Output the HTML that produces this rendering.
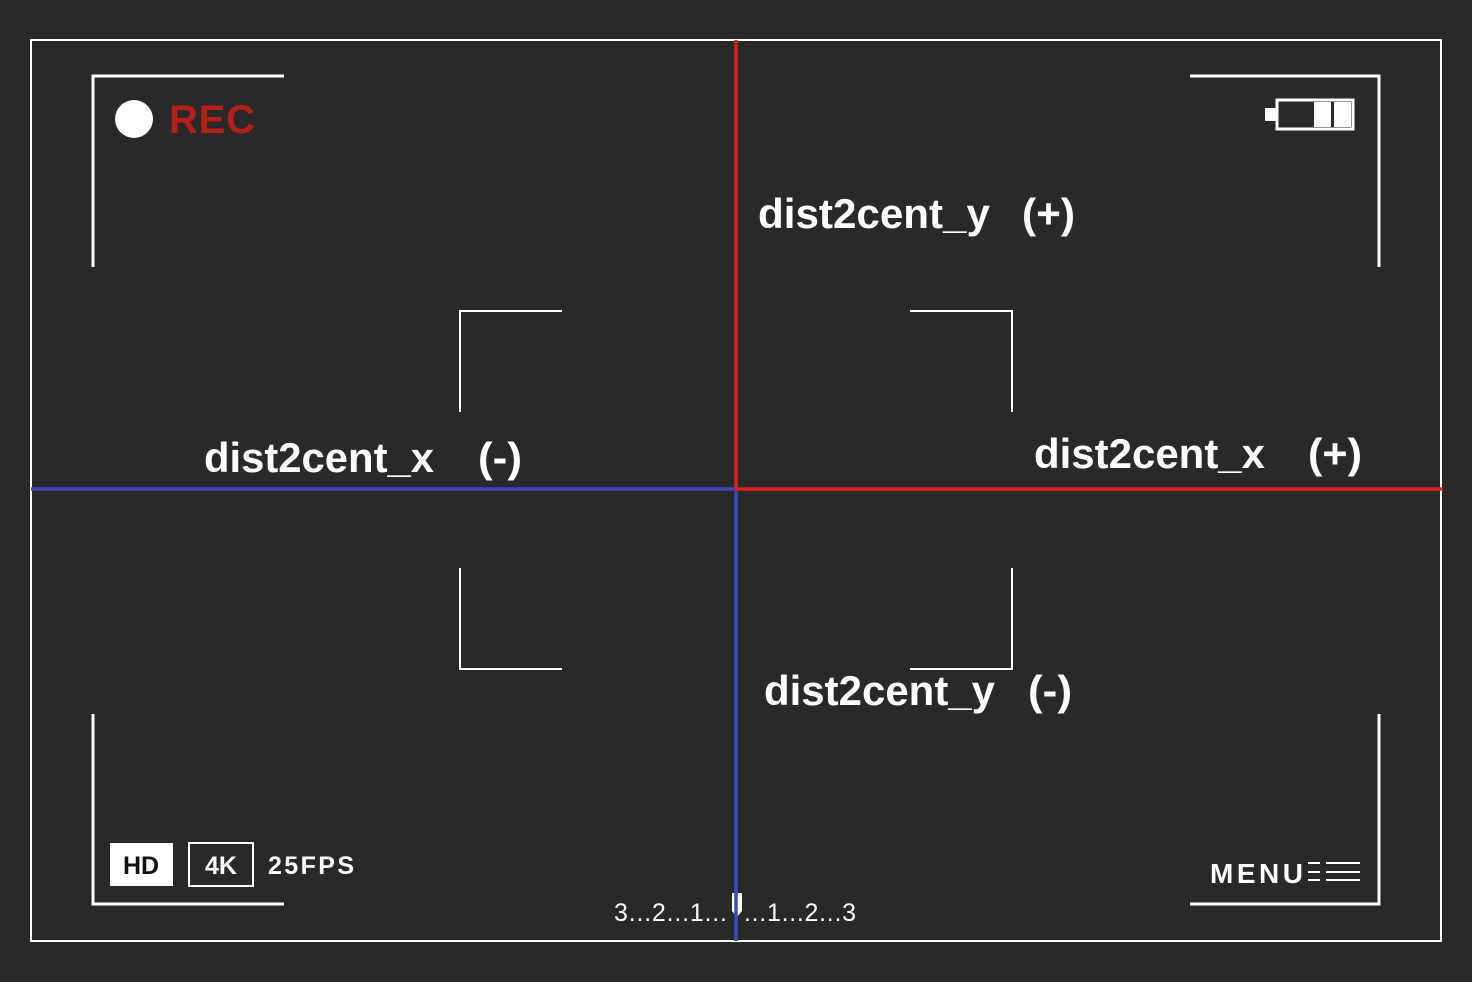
<!DOCTYPE html>
<html><head><meta charset="utf-8"><style>
html,body{margin:0;padding:0;background:#292929;}
svg{display:block;}
text{font-family:"Liberation Sans",sans-serif;}
</style></head><body>
<svg width="1472" height="982" viewBox="0 0 1472 982">
<rect x="0" y="0" width="1472" height="982" fill="#292929"/>
<rect x="31" y="40" width="1410" height="901" fill="none" stroke="#fff" stroke-width="2"/>
<g stroke="#fff" stroke-width="3" fill="none">
<polyline points="93,267 93,76 284,76"/>
<polyline points="1190,76 1379,76 1379,267"/>
<polyline points="93,714 93,904 284,904"/>
<polyline points="1190,904 1379,904 1379,714"/>
</g>
<g stroke="#fff" stroke-width="2" fill="none">
<polyline points="460,412 460,311 562,311"/>
<polyline points="910,311 1012,311 1012,412"/>
<polyline points="460,568 460,669 562,669"/>
<polyline points="910,669 1012,669 1012,568"/>
</g>
<circle cx="134" cy="119" r="19" fill="#fff"/>
<text x="169" y="133" font-size="40" font-weight="bold" fill="#b5201a" textLength="86">REC</text>
<g>
<rect x="1265" y="108" width="11" height="13" fill="#fff"/>
<rect x="1277" y="100" width="76" height="29" fill="none" stroke="#fff" stroke-width="3"/>
<rect x="1314" y="102" width="17" height="25" fill="#fff"/>
<rect x="1334" y="102" width="17" height="25" fill="#fff"/>
</g>
<rect x="110" y="843" width="63" height="43" fill="#fff"/>
<text x="141" y="874" font-size="25" font-weight="bold" fill="#111" text-anchor="middle">HD</text>
<rect x="189" y="843" width="64" height="43" fill="none" stroke="#fff" stroke-width="2"/>
<text x="221" y="874" font-size="25" font-weight="bold" fill="#fff" text-anchor="middle">4K</text>
<text x="268" y="874" font-size="25" font-weight="bold" fill="#fff" textLength="86">25FPS</text>
<text x="1210" y="883" font-size="28" font-weight="bold" fill="#fff" textLength="93">MENU</text>
<g stroke="#fff" stroke-width="2">
<line x1="1308" y1="863" x2="1320" y2="863"/><line x1="1326" y1="863" x2="1360" y2="863"/>
<line x1="1308" y1="872" x2="1320" y2="872"/><line x1="1326" y1="872" x2="1360" y2="872"/>
<line x1="1308" y1="880" x2="1320" y2="880"/><line x1="1326" y1="880" x2="1360" y2="880"/>
</g>
<text x="614" y="921" font-size="25" fill="#fff" textLength="113">3...2...1...</text>
<text x="744" y="921" font-size="25" fill="#fff" textLength="112">...1...2...3</text>
<path d="M732,893 h10 v18 l-5,6 l-5,-6 z" fill="#fff"/>
<g stroke-width="3.5">
<line x1="31" y1="489" x2="736" y2="489" stroke="#3f48c0"/>
<line x1="736" y1="489" x2="736" y2="941" stroke="#3f48c0"/>
<line x1="736" y1="40" x2="736" y2="489" stroke="#e02020"/>
<line x1="736" y1="489" x2="1443" y2="489" stroke="#e02020"/>
</g>
<g font-size="42" font-weight="bold" fill="#fff">
<text x="758" y="228" textLength="232" lengthAdjust="spacingAndGlyphs">dist2cent_y</text>
<text x="1022" y="228" textLength="53" lengthAdjust="spacingAndGlyphs">(+)</text>
<text x="204" y="472" textLength="230" lengthAdjust="spacingAndGlyphs">dist2cent_x</text>
<text x="478" y="472" textLength="44" lengthAdjust="spacingAndGlyphs">(-)</text>
<text x="1034" y="468" textLength="231" lengthAdjust="spacingAndGlyphs">dist2cent_x</text>
<text x="1308" y="468" textLength="54" lengthAdjust="spacingAndGlyphs">(+)</text>
<text x="764" y="705" textLength="231" lengthAdjust="spacingAndGlyphs">dist2cent_y</text>
<text x="1028" y="705" textLength="44" lengthAdjust="spacingAndGlyphs">(-)</text>
</g>
</svg>
</body></html>
